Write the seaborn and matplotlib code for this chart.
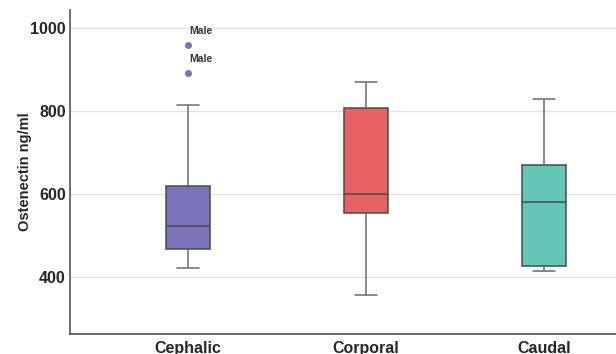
import matplotlib
matplotlib.use("Agg")
import matplotlib.pyplot as plt
import seaborn as sns
import pandas as pd

# box summary
regions = ["Cephalic", "Corporal", "Caudal"]
whis_lo = [422, 357, 414]
q1 = [467, 554, 427]
median = [523, 600, 581]
q3 = [619, 808, 670]
whis_hi = [814, 870, 828]
outliers = [[892, 959], [], []]
outlier_labels = [["Male", "Male"], [], []]
colors = ["#7B73B9", "#E86163", "#63C6B6"]

# rebuild a sample per region whose quartiles / whiskers equal the summary
rows = []
for i, r in enumerate(regions):
    vals = [whis_lo[i]] + [q1[i]] * 3 + [median[i]] * 3 + [q3[i]] * 3 + [whis_hi[i]] + outliers[i]
    rows += [(r, v) for v in vals]
df = pd.DataFrame(rows, columns=["region", "value"])

sns.set_style("white")
plt.rcParams["font.family"] = ["Liberation Sans", "DejaVu Sans"]

fig = plt.figure(figsize=(6.16, 3.54), dpi=100)
ax = fig.add_axes([0.1136, 0.0565, 0.8864, 0.9155])

sns.boxplot(data=df, x="region", y="value", hue="region", palette=colors,
            order=regions, width=0.25, linewidth=1.1, linecolor="#4a4a4a",
            whiskerprops={"color": "#6a6a6a"}, capprops={"color": "#6a6a6a"},
            flierprops={"marker": "o", "markersize": 4, "markerfacecolor": colors[0],
                        "markeredgecolor": colors[0]},
            saturation=1, legend=False, ax=ax, zorder=3)

for i in range(len(regions)):
    for v, lab in zip(outliers[i], outlier_labels[i]):
        ax.text(i + 0.005, v + 22, lab, fontsize=7.5, fontweight="bold", color="#333333",
                ha="left", va="bottom")

ax.set_ylim(263, 1043)
ax.set_xlim(-0.663, 2.405)
ax.set_yticks([400, 600, 800, 1000])
ax.yaxis.grid(True, color="#e2e2e2", linewidth=1)
ax.set_axisbelow(True)
ax.tick_params(axis="y", length=0, pad=3)
ax.tick_params(axis="x", length=0, pad=5)
for t in ax.get_yticklabels():
    t.set_fontsize(11.5)
    t.set_fontweight("bold")
for t in ax.get_xticklabels():
    t.set_fontsize(11.5)
    t.set_fontweight("bold")
ax.set_xlabel("")
ax.set_ylabel("Ostenectin ng/ml", fontsize=10.5, fontweight="bold", labelpad=-1)
sns.despine(ax=ax)
for s in ["left", "bottom"]:
    ax.spines[s].set_color("#555555")
    ax.spines[s].set_linewidth(1.2)

fig.savefig("out.png", dpi=100)
